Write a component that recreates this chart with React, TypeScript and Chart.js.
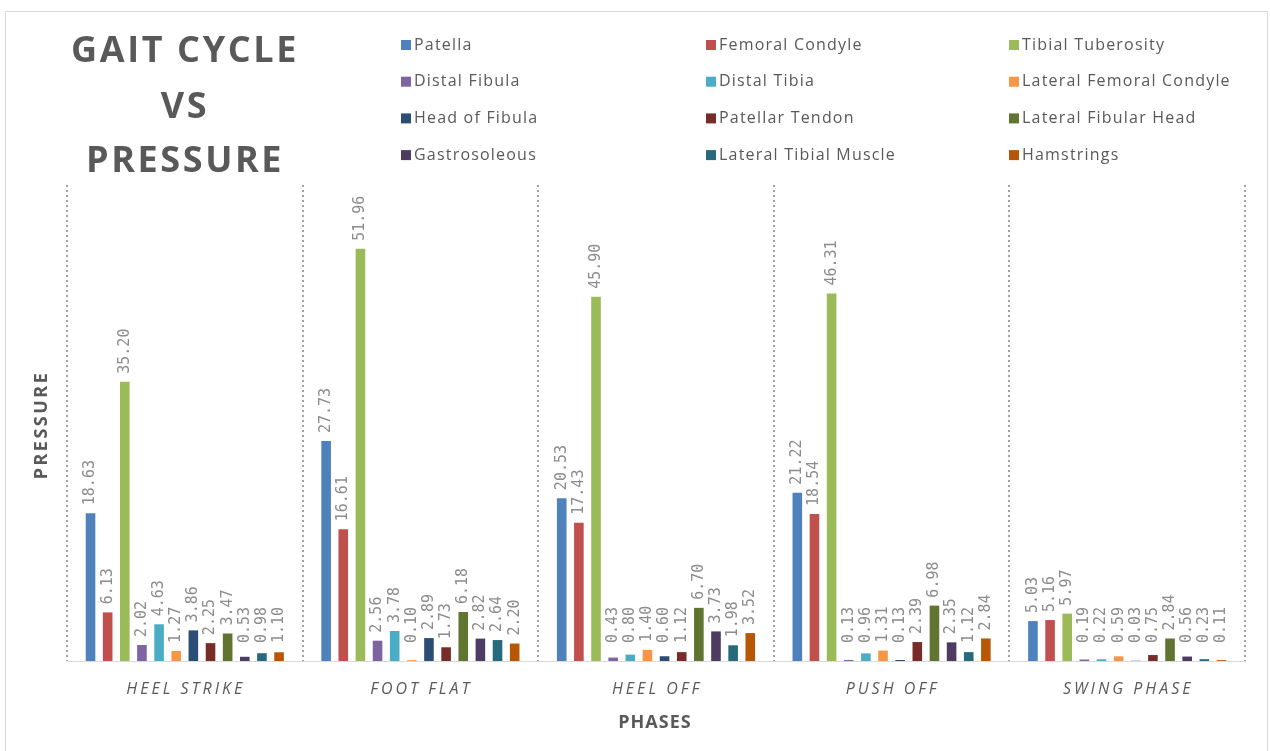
import React, { useEffect, useRef } from "react";
import { Chart, registerables } from "chart.js";

Chart.register(...registerables);

const phases = ["HEEL STRIKE", "FOOT FLAT", "HEEL OFF", "PUSH OFF", "SWING PHASE"];

const seriesNames = [
  "Patella",
  "Femoral Condyle",
  "Tibial Tuberosity",
  "Distal Fibula",
  "Distal Tibia",
  "Lateral Femoral Condyle",
  "Head of Fibula",
  "Patellar Tendon",
  "Lateral Fibular Head",
  "Gastrosoleous",
  "Lateral Tibial Muscle",
  "Hamstrings",
];

const seriesColors = [
  "#4F81BD",
  "#C0504D",
  "#9BBB59",
  "#8064A2",
  "#4BACC6",
  "#F79646",
  "#2C4D75",
  "#772C2A",
  "#5F7530",
  "#4D3B62",
  "#276A7C",
  "#B65708",
];

const patella = [18.63, 27.73, 20.53, 21.22, 5.03];
const femoralCondyle = [6.13, 16.61, 17.43, 18.54, 5.16];
const tibialTuberosity = [35.2, 51.96, 45.9, 46.31, 5.97];
const distalFibula = [2.02, 2.56, 0.43, 0.13, 0.19];
const distalTibia = [4.63, 3.78, 0.8, 0.96, 0.22];
const lateralFemoralCondyle = [1.27, 0.1, 1.4, 1.31, 0.59];
const headOfFibula = [3.86, 2.89, 0.6, 0.13, 0.03];
const patellarTendon = [2.25, 1.73, 1.12, 2.39, 0.75];
const lateralFibularHead = [3.47, 6.18, 6.7, 6.98, 2.84];
const gastrosoleous = [0.53, 2.82, 3.73, 2.35, 0.56];
const lateralTibialMuscle = [0.98, 2.64, 1.98, 1.12, 0.23];
const hamstrings = [1.1, 2.2, 3.52, 2.84, 0.11];

const seriesValues = [
  patella,
  femoralCondyle,
  tibialTuberosity,
  distalFibula,
  distalTibia,
  lateralFemoralCondyle,
  headOfFibula,
  patellarTendon,
  lateralFibularHead,
  gastrosoleous,
  lateralTibialMuscle,
  hamstrings,
];

const titleLines = ["GAIT CYCLE", "VS", "PRESSURE"];
const xTitle = "PHASES";
const yTitle = "PRESSURE";

const decorPlugin = {
  id: "decor",
  beforeDraw(chart: any) {
    const ctx = chart.ctx;
    ctx.save();
    ctx.strokeStyle = "#d9d9d9";
    ctx.lineWidth = 1;
    ctx.strokeRect(5.5, 11.5, 1262, 760);
    ctx.restore();
  },
  afterDatasetsDraw(chart: any) {
    const ctx = chart.ctx;
    const base = chart.scales.y.getPixelForValue(0);
    ctx.save();
    ctx.font = "15px 'DejaVu Sans Mono'";
    ctx.fillStyle = "#8c8c8c";
    ctx.textAlign = "left";
    ctx.textBaseline = "middle";
    chart.data.datasets.forEach((ds: any, di: number) => {
      const meta = chart.getDatasetMeta(di);
      meta.data.forEach((el: any, i: number) => {
        const v = ds.data[i];
        const start = Math.min(el.y - 8, base - 18);
        ctx.save();
        ctx.translate(el.x, start);
        ctx.rotate(-Math.PI / 2);
        ctx.fillText(v.toFixed(2), 0, 0);
        ctx.restore();
      });
    });
    ctx.restore();
  },
  afterDraw(chart: any) {
    const ctx = chart.ctx;
    const xs = chart.scales.x;
    ctx.save();
    // Title
    ctx.fillStyle = "#595959";
    ctx.textAlign = "center";
    ctx.textBaseline = "middle";
    ctx.font = "bold 36px 'Open Sans'";
    (ctx as any).letterSpacing = "2.6px";
    const ty = [52, 108, 162];
    titleLines.forEach((t, i) => ctx.fillText(t, 185, ty[i]));

    // Legend
    ctx.font = "16px 'Open Sans'";
    (ctx as any).letterSpacing = "1.2px";
    ctx.textAlign = "left";
    const colX = [401, 706, 1009];
    chart.data.datasets.forEach((ds: any, i: number) => {
      const col = i % 3;
      const row = Math.floor(i / 3);
      const x = colX[col];
      const y = 45 + row * 36.7;
      ctx.fillStyle = ds.backgroundColor;
      ctx.fillRect(x, y - 5, 10, 10);
      ctx.fillStyle = "#595959";
      ctx.fillText(ds.label, x + 13, y);
    });

    // X tick labels
    ctx.font = "italic 16px 'Open Sans'";
    (ctx as any).letterSpacing = "3px";
    ctx.textAlign = "center";
    ctx.fillStyle = "#595959";
    phases.forEach((p, i) => {
      ctx.fillText(p, xs.getPixelForValue(i) + 1, 689);
    });

    // Axis titles
    ctx.font = "bold 18px 'Open Sans'";
    (ctx as any).letterSpacing = "1px";
    ctx.fillText(xTitle, 655, 723);
    ctx.save();
    ctx.translate(42, 425);
    ctx.rotate(-Math.PI / 2);
    (ctx as any).letterSpacing = "2.5px";
    ctx.fillText(yTitle, 0, 0);
    ctx.restore();
    (ctx as any).letterSpacing = "0px";
    ctx.restore();
  },
};

export default function App() {
  const ref = useRef<HTMLCanvasElement | null>(null);
  useEffect(() => {
    if (!ref.current) return;
    const chart = new Chart(ref.current, {
      type: "bar",
      data: {
        labels: phases,
        datasets: seriesNames.map((name, i) => ({
          label: name,
          data: seriesValues[i],
          backgroundColor: seriesColors[i],
          borderWidth: 0,
          categoryPercentage: 0.873,
          barPercentage: 0.56,
        })),
      },
      options: {
        animation: false,
        responsive: false,
        devicePixelRatio: 1,
        layout: { padding: { left: 67, right: 25, top: 185, bottom: 90 } },
        plugins: {
          legend: { display: false },
          title: { display: false },
          tooltip: { enabled: false },
        },
        scales: {
          x: {
            display: true,
            offset: true,
            grid: {
              display: true,
              offset: true,
              drawTicks: false,
              drawOnChartArea: true,
              color: "#a0a0a0",
              lineWidth: 2,
            },
            border: { display: true, color: "#d9d9d9", width: 1, dash: [2, 3] },
            ticks: { display: false },
          },
          y: {
            display: false,
            min: 0,
            max: 60,
          },
        },
      },
      plugins: [decorPlugin],
    });
    return () => chart.destroy();
  }, []);
  return (
    <div style={{ position: "fixed", left: 0, top: 0, width: 1270, height: 751, background: "#fff" }}>
      <canvas ref={ref} width={1270} height={751} style={{ width: 1270, height: 751, display: "block" }} />
    </div>
  );
}
